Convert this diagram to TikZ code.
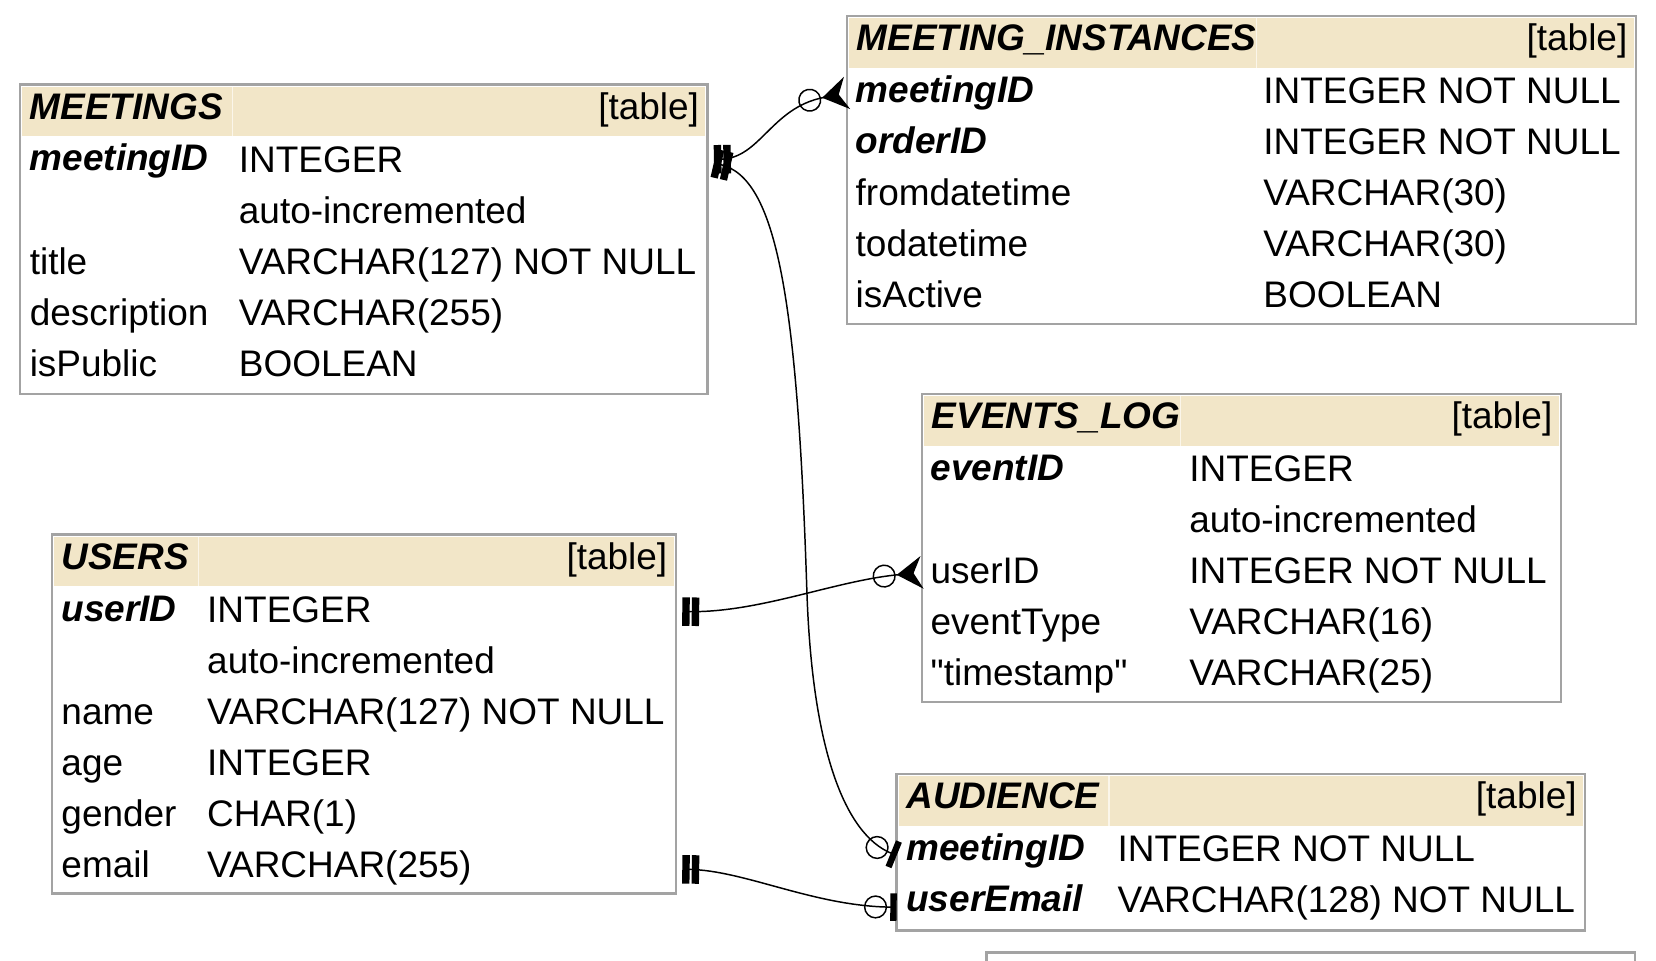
\documentclass[tikz,border=0pt]{standalone}
\usepackage{fontspec}
\setmainfont{Liberation Sans}[Ligatures=TeXOff]
\usetikzlibrary{arrows.meta}
\definecolor{tborder}{HTML}{A3A3A3}
\definecolor{thead}{HTML}{F2E6C8}
\definecolor{tdiv}{HTML}{FBF6EA}
\newcommand{\fsz}{\fontsize{35}{42}\selectfont}
\tikzset{
  tbox/.style={draw=tborder, line width=2.2pt, fill=white, inner sep=0pt, outer sep=0pt, anchor=north west, rectangle},
  thd/.style={fill=thead},
  tdv/.style={draw=tdiv, line width=1.2pt},
  fld/.style={anchor=base west, inner sep=0pt, font=\fsz},
  keyf/.style={anchor=base west, inner sep=0pt, font=\fsz\bfseries\itshape},
  ttag/.style={anchor=base east, inner sep=0pt, font=\fsz},
  conn/.style={line width=1.4pt, draw=black},
}
\newcommand{\erdtable}[7]{%
  \node[tbox, minimum width={#4-#2}, minimum height={#5-#3}] (#1) at (#2,#3) {};
  \fill[thd] ({#2+2},{#3+2}) rectangle ({#4-2},{#3+49});
  \draw[tdv] (#6,{#3+2}) -- (#6,{#3+49});
  \node[keyf] (#1-title) at ({#2+9},{#3+33}) {#7};
  \node[ttag] (#1-tag) at ({#4-8},{#3+33}) {[table]};
}
\begin{document}
\begin{tikzpicture}[x=1pt,y=-1pt]
\useasboundingbox (0,0) rectangle (1568,909);
\fill[white] (0,0) rectangle (1568,909);

% MEETINGS
\erdtable{mt}{19}{80}{670}{373}{220}{MEETINGS}
\node[keyf] (mt-n1) at (28,161) {meetingID};
\node[fld]  (mt-t1) at (226,163) {INTEGER};
\node[fld]  (mt-t2) at (226,211.3) {auto-incremented};
\node[fld]  (mt-n3) at (28,259.6) {title};
\node[fld]  (mt-t3) at (226,259.6) {VARCHAR(127) NOT NULL};
\node[fld]  (mt-n4) at (28,307.9) {description};
\node[fld]  (mt-t4) at (226,307.9) {VARCHAR(255)};
\node[fld]  (mt-n5) at (28,356.2) {isPublic};
\node[fld]  (mt-t5) at (226,356.2) {BOOLEAN};

% MEETING_INSTANCES
\erdtable{mi}{802}{15}{1549}{307}{1190}{MEETING\_INSTANCES}
\node[keyf] (mi-n1) at (810,97) {meetingID};
\node[fld]  (mi-t1) at (1196,98) {INTEGER NOT NULL};
\node[keyf] (mi-n2) at (810,145.3) {orderID};
\node[fld]  (mi-t2) at (1196,146.3) {INTEGER NOT NULL};
\node[fld]  (mi-n3) at (810,194.6) {fromdatetime};
\node[fld]  (mi-t3) at (1196,194.6) {VARCHAR(30)};
\node[fld]  (mi-n4) at (810,242.9) {todatetime};
\node[fld]  (mi-t4) at (1196,242.9) {VARCHAR(30)};
\node[fld]  (mi-n5) at (810,291.2) {isActive};
\node[fld]  (mi-t5) at (1196,291.2) {BOOLEAN};

% EVENTS_LOG
\erdtable{ev}{873}{373}{1478}{665}{1118}{EVENTS\_LOG}
\node[keyf] (ev-n1) at (881,455) {eventID};
\node[fld]  (ev-t1) at (1126,456) {INTEGER};
\node[fld]  (ev-t2) at (1126,504.3) {auto-incremented};
\node[fld]  (ev-n3) at (881,552.6) {userID};
\node[fld]  (ev-t3) at (1126,552.6) {INTEGER NOT NULL};
\node[fld]  (ev-n4) at (881,600.9) {eventType};
\node[fld]  (ev-t4) at (1126,600.9) {VARCHAR(16)};
\node[fld]  (ev-n5) at (881,649.2) {"timestamp"};
\node[fld]  (ev-t5) at (1126,649.2) {VARCHAR(25)};

% USERS
\erdtable{us}{49}{506}{640}{846}{188}{USERS}
\node[keyf] (us-n1) at (58,588) {userID};
\node[fld]  (us-t1) at (196,589) {INTEGER};
\node[fld]  (us-t2) at (196,637.3) {auto-incremented};
\node[fld]  (us-n3) at (58,685.6) {name};
\node[fld]  (us-t3) at (196,685.6) {VARCHAR(127) NOT NULL};
\node[fld]  (us-n4) at (58,733.9) {age};
\node[fld]  (us-t4) at (196,733.9) {INTEGER};
\node[fld]  (us-n5) at (58,782.2) {gender};
\node[fld]  (us-t5) at (196,782.2) {CHAR(1)};
\node[fld]  (us-n6) at (58,830.5) {email};
\node[fld]  (us-t6) at (196,830.5) {VARCHAR(255)};

% AUDIENCE
\erdtable{au}{849}{733}{1501}{881}{1050}{AUDIENCE}
\node[keyf] (au-n1) at (858,815) {meetingID};
\node[fld]  (au-t1) at (1058,816) {INTEGER NOT NULL};
\node[keyf] (au-n2) at (858,863.3) {userEmail};
\node[fld]  (au-t2) at (1058,864.3) {VARCHAR(128) NOT NULL};

% partially visible table at the bottom
\node[tbox, minimum width=614, minimum height=60] (nx) at (934,902) {};

% connectors
\draw[conn, {Rectangle[length=7pt,width=27pt,sep=6pt] Rectangle[length=7pt,width=27pt,sep=2pt]}-{Circle[open,length=22pt,width=22pt,sep=1pt] Stealth[reversed,length=24pt,width=31pt,inset=8pt]}]
  (mt.east |- 0,151) .. controls (720,150) and (730,102) .. (mi.west |- 0,88);
\draw[conn, {Rectangle[length=7pt,width=27pt,sep=6pt] Rectangle[length=7pt,width=27pt,sep=2pt]}-{Circle[open,length=22pt,width=22pt,sep=3pt] Rectangle[length=6pt,width=26pt]}]
  (mt.east |- 0,153) .. controls (735,168) and (755,280) .. (764,560)
  .. controls (769,710) and (800,790) .. (au.west |- 0,810);
\draw[conn, {Rectangle[length=7pt,width=27pt,sep=6pt] Rectangle[length=7pt,width=27pt,sep=2pt]}-{Circle[open,length=22pt,width=22pt,sep=1pt] Stealth[reversed,length=24pt,width=31pt,inset=8pt]}]
  (us.east |- 0,579) .. controls (720,580) and (790,550) .. (ev.west |- 0,542);
\draw[conn, {Rectangle[length=7pt,width=27pt,sep=6pt] Rectangle[length=7pt,width=27pt,sep=2pt]}-{Circle[open,length=22pt,width=22pt,sep=3pt] Rectangle[length=6pt,width=26pt]}]
  (us.east |- 0,823) .. controls (705,824) and (770,858) .. (au.west |- 0,859);
\end{tikzpicture}
\end{document}
